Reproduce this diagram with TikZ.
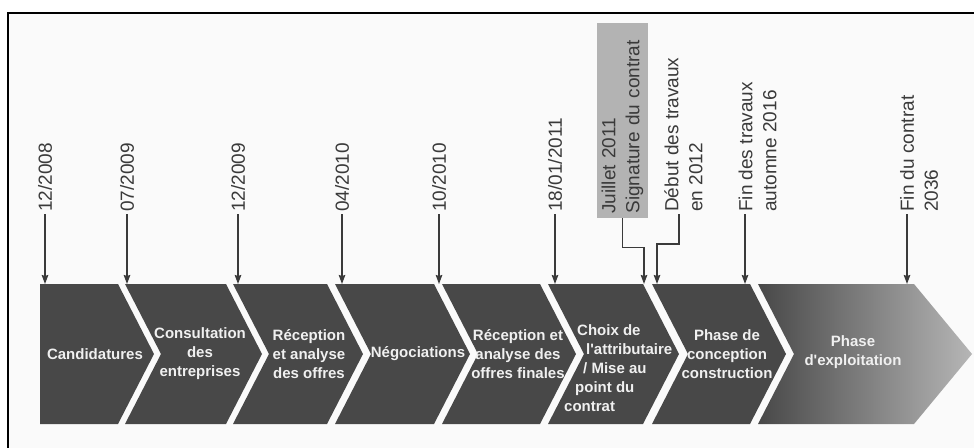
\documentclass[tikz,border=0pt]{standalone}
\usepackage{fontspec}
\setmainfont{Liberation Sans}[Ligatures=TeXOff]
\usetikzlibrary{arrows.meta}
\definecolor{chevgray}{HTML}{484848}
\definecolor{boxgray}{HTML}{B3B3B3}
\definecolor{inkgray}{HTML}{3A3A3A}
\tikzset{
  chev/.style={fill=chevgray},
  phase/.style={text=white!94!black, font=\bfseries\fontsize{15}{19}\selectfont, align=center, inner sep=1pt},
  datelabel/.style={rotate=90, anchor=west, text=inkgray, font=\fontsize{19}{24}\selectfont, align=left, inner sep=2pt},
  pointer/.style={draw=inkgray, line width=1.4pt, -{Stealth[length=9pt, width=6.5pt, inset=1pt]}}
}
\begin{document}
\begin{tikzpicture}[x=1pt, y=-1pt]
  \useasboundingbox (0,0) rectangle (974,447);
  \clip (0,0) rectangle (974,447);
  \fill[white!98!black] (8,13) rectangle (980,455);
  \draw[line width=2.5pt] (8,13) rectangle (990,460);
  % chevrons
  \fill[chev] (40,284) -- (118,284) -- (154,354) -- (118,424) -- (40,424) -- cycle;
  \fill[chev] (125,284) -- (226,284) -- (262,354) -- (226,424) -- (125,424) -- (161,354) -- cycle;
  \fill[chev] (233,284) -- (327,284) -- (363,354) -- (327,424) -- (233,424) -- (269,354) -- cycle;
  \fill[chev] (335,284) -- (434,284) -- (470,354) -- (434,424) -- (335,424) -- (371,354) -- cycle;
  \fill[chev] (442,284) -- (540,284) -- (576,354) -- (540,424) -- (442,424) -- (478,354) -- cycle;
  \fill[chev] (548,284) -- (643,284) -- (679,354) -- (643,424) -- (548,424) -- (584,354) -- cycle;
  \fill[chev] (652,284) -- (750,284) -- (786,354) -- (750,424) -- (652,424) -- (688,354) -- cycle;
  \shade[left color=chevgray, middle color=chevgray!80!white, right color=chevgray!40!white]
    (758,284) -- (914,284) -- (972,354) -- (914,424) -- (758,424) -- (794,354) -- cycle;
  % texte des phases
  \node[phase] (c1) at (95,354) {Candidatures};
  \node[phase] (c2) at (200,354) {Consultation\\des\\entreprises};
  \node[phase] (c3) at (309,354) {Réception\\et analyse\\des offres};
  \node[phase] (c4) at (418,354) {Négociations};
  \node[phase] (c5) at (518,354) {Réception et\\analyse des\\offres finales};
  \node[phase, align=left, anchor=west] (c6) at (563,368) {\hspace*{13pt}Choix de\\\hspace*{22pt}l'attributaire\\\hspace*{19pt}/ Mise au\\\hspace*{11pt}point du\\contrat};
  \node[phase] (c7) at (727,354) {Phase de\\conception\\construction};
  \node[phase] (c8) at (853,352) {Phase\\d'exploitation};
  % dates
  \coordinate (a1) at (45,284); \coordinate (a2) at (127,284); \coordinate (a3) at (238,284);
  \coordinate (a4) at (342,284); \coordinate (a5) at (439,284); \coordinate (a6) at (555,284);
  \coordinate (a7) at (644,284); \coordinate (a8) at (657,284); \coordinate (a9) at (745,284);
  \coordinate (a10) at (907,284);
  \node[datelabel] (l1) at (45,214) {12/2008};
  \node[datelabel] (l2) at (127,214) {07/2009};
  \node[datelabel] (l3) at (238,214) {12/2009};
  \node[datelabel] (l4) at (342,214) {04/2010};
  \node[datelabel] (l5) at (439,214) {10/2010};
  \node[datelabel] (l6) at (555,214) {18/01/2011};
  \node[datelabel, anchor=center, fill=boxgray, minimum width=195pt, minimum height=51pt, text width=186pt] (l7) at (622.5,120.5) {Juillet 2011\\Signature du contrat};
  \node[datelabel] (l8) at (683.5,214) {Début des travaux\\en 2012};
  \node[datelabel] (l9) at (757.5,214) {Fin des travaux\\automne 2016};
  \node[datelabel] (l10) at (919,214) {Fin du contrat\\2036};
  \draw[pointer] (l1.west) -- (a1);
  \draw[pointer] (l2.west) -- (a2);
  \draw[pointer] (l3.west) -- (a3);
  \draw[pointer] (l4.west) -- (a4);
  \draw[pointer] (l5.west) -- (a5);
  \draw[pointer] (l6.west) -- (a6);
  \draw[pointer] (l7.west) -- ++(0,29) -| (a7);
  \draw[pointer] ([xshift=-4.5pt]l8.west) -- ++(0,30) -| (a8);
  \draw[pointer] (l9.west -| a9) -- (a9);
  \draw[pointer] (l10.west -| a10) -- (a10);
\end{tikzpicture}
\end{document}
